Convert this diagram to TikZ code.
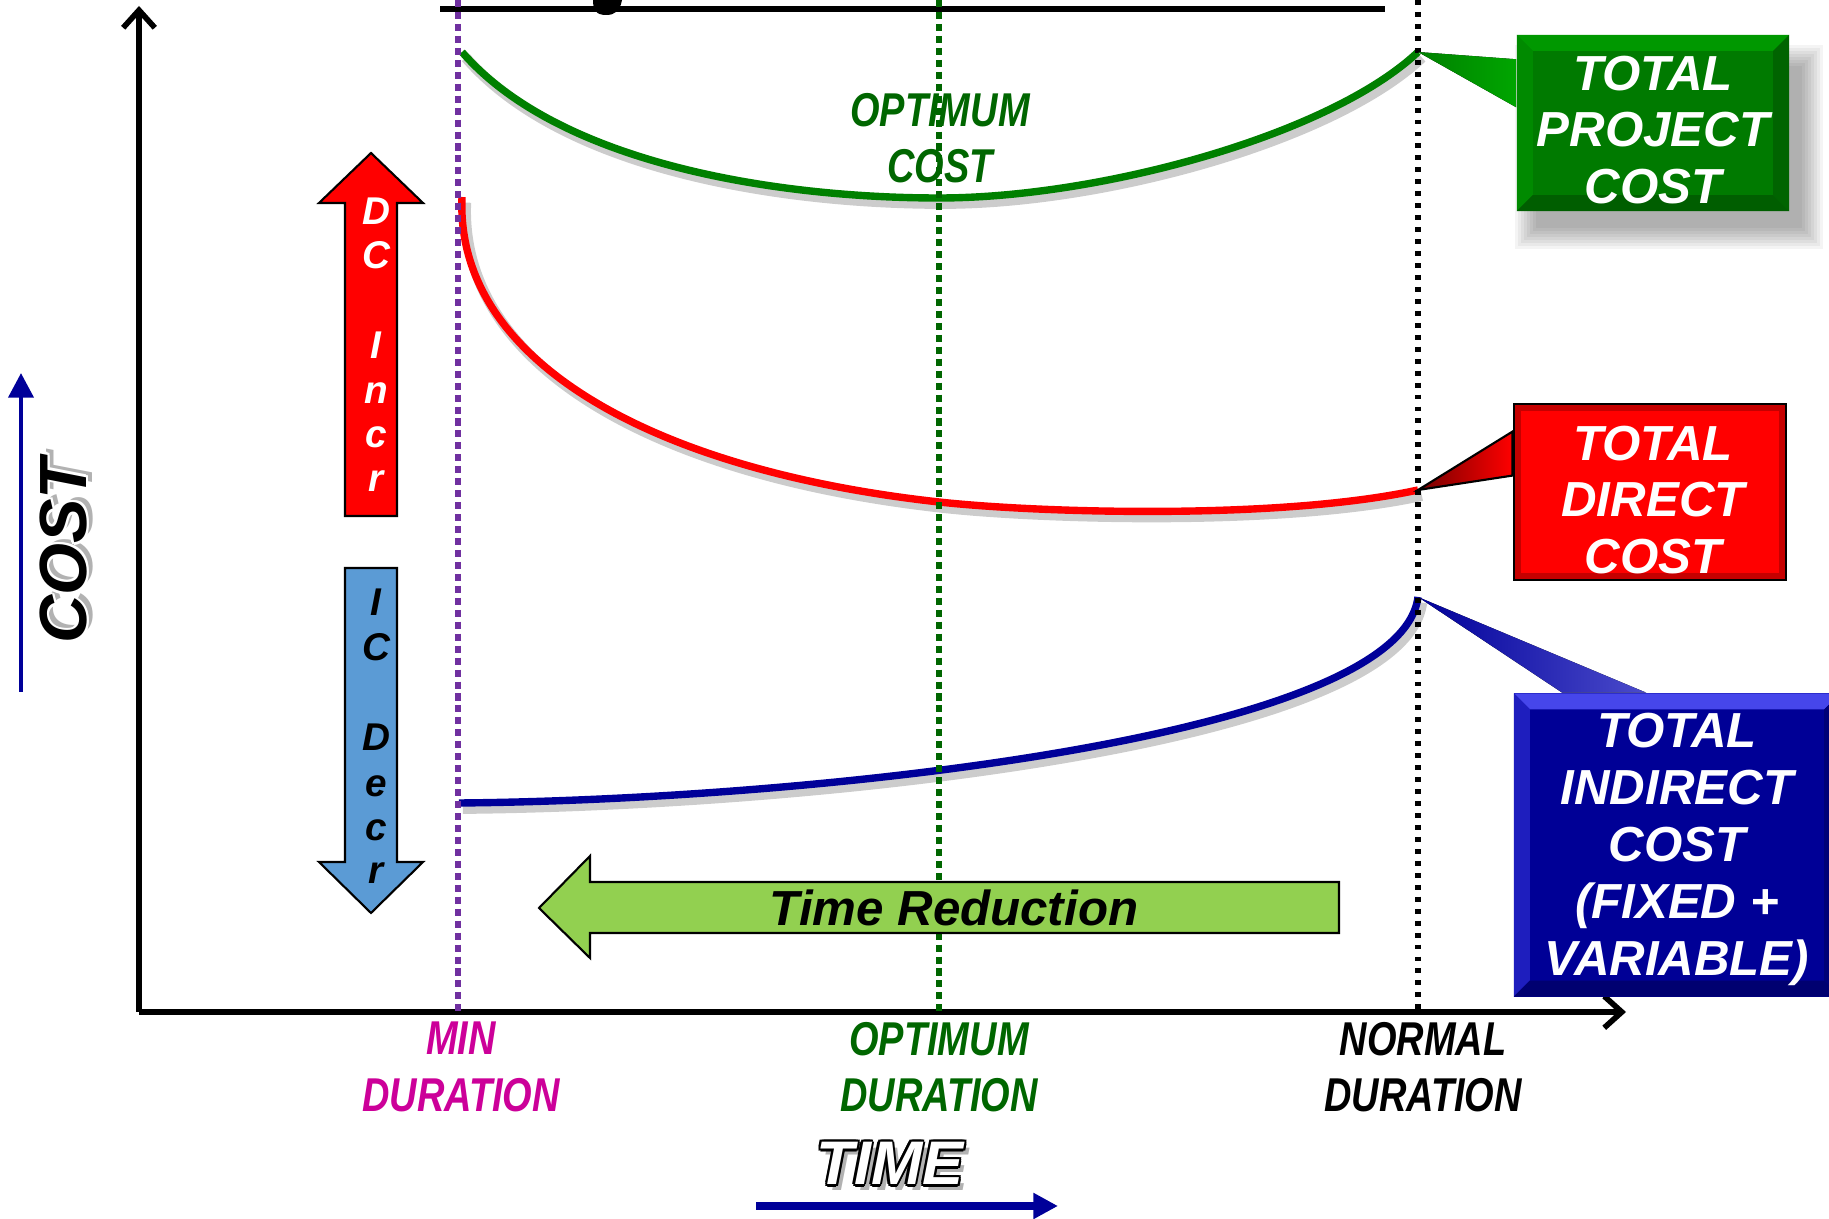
\documentclass[tikz,border=0pt]{standalone}
\usepackage{fontspec}
\setmainfont{Liberation Sans}
\newfontfamily\narrowsf[FakeStretch=0.8]{Liberation Sans}
\usetikzlibrary{arrows.meta}

\definecolor{pcgreen}{RGB}{0,128,0}
\definecolor{optgreen}{RGB}{0,102,0}
\definecolor{minpurple}{RGB}{112,48,160}
\definecolor{minmagenta}{RGB}{204,0,153}
\definecolor{icblue}{RGB}{0,0,153}
\definecolor{icarrow}{RGB}{91,155,213}
\definecolor{reducegreen}{RGB}{146,208,80}
\definecolor{gbox}{RGB}{0,122,0}
\definecolor{gtop}{RGB}{0,152,0}
\definecolor{gleft}{RGB}{0,138,0}
\definecolor{gright}{RGB}{0,100,0}
\definecolor{gbottom}{RGB}{0,94,0}
\definecolor{bbox}{RGB}{0,0,150}
\definecolor{btop}{RGB}{70,70,235}
\definecolor{bleft}{RGB}{30,30,190}
\definecolor{bright}{RGB}{0,0,120}
\definecolor{bbottom}{RGB}{0,0,112}

% text drawn over copies of itself: shadow, outline, then the fill colour
\newcommand{\outlinetext}[3]{%
  \leavevmode
  \rlap{\color{black!30}\hspace{1.4pt}\raisebox{-1.6pt}{#3}}%
  \rlap{\color{#1}\hspace{-.7pt}#3}%
  \rlap{\color{#1}\hspace{.7pt}#3}%
  \rlap{\color{#1}\raisebox{.7pt}{#3}}%
  \rlap{\color{#1}\raisebox{-.7pt}{#3}}%
  \rlap{\color{#1}\hspace{-.5pt}\raisebox{.5pt}{#3}}%
  \rlap{\color{#1}\hspace{.5pt}\raisebox{.5pt}{#3}}%
  \rlap{\color{#1}\hspace{-.5pt}\raisebox{-.5pt}{#3}}%
  \rlap{\color{#1}\hspace{.5pt}\raisebox{-.5pt}{#3}}%
  {\color{#2}#3}}

\tikzset{
    x=0.01cm, y=-0.01cm, % one unit is one pixel of the sheet, y runs down
    axisline/.style={line width=1.6pt, -{Straight Barb[length=5pt,width=9pt]}},
    durline/.style={line width=1.5pt, dash pattern=on 2pt off 1.4pt}, % vertical duration marks
    costcurve/.style={line width=2.1pt, preaction={draw=black, opacity=.2, line width=3pt,
        transform canvas={shift={(1.1pt,-1.6pt)}}}}, % curve with a soft shadow
    calloutbox/.style={minimum width=2.72cm, minimum height=1.76cm, inner sep=0pt},
    boxtext/.style={text=white, align=center, font=\fontsize{14pt}{16pt}\selectfont\bfseries\itshape},
    durlabel/.style={align=center, font=\narrowsf\fontsize{13.5pt}{16.1pt}\selectfont\bfseries\itshape},
    arrowletter/.style={anchor=base, font=\fontsize{11pt}{13pt}\selectfont\bfseries\itshape},
    bigarrow/.style={draw=black, line width=0.6pt, line join=miter},
    bevelled/.style n args={4}{path picture={
        \fill[#1] (path picture bounding box.north west) -- (path picture bounding box.north east)
            -- ([shift={(-.16cm,-.16cm)}]path picture bounding box.north east)
            -- ([shift={(.16cm,-.16cm)}]path picture bounding box.north west) -- cycle;
        \fill[#2] (path picture bounding box.north west) -- ([shift={(.16cm,-.16cm)}]path picture bounding box.north west)
            -- ([shift={(.16cm,.16cm)}]path picture bounding box.south west) -- (path picture bounding box.south west) -- cycle;
        \fill[#3] (path picture bounding box.north east) -- ([shift={(-.16cm,-.16cm)}]path picture bounding box.north east)
            -- ([shift={(-.16cm,.16cm)}]path picture bounding box.south east) -- (path picture bounding box.south east) -- cycle;
        \fill[#4] (path picture bounding box.south west) -- ([shift={(.16cm,.16cm)}]path picture bounding box.south west)
            -- ([shift={(-.16cm,.16cm)}]path picture bounding box.south east) -- (path picture bounding box.south east) -- cycle;
    }},
}

\begin{document}
\begin{tikzpicture}
\useasboundingbox (0,0) rectangle (1829,1219);
\clip (0,0) rectangle (1829,1219);
\fill[white] (0,0) rectangle (1829,1219);

% rule of the cut-off title
\draw[line width=1.6pt] (440,9) -- (1385,9);
\fill (593,0) -- (622,0) .. controls (620,11) and (615,15) .. (606,15) .. controls (596,15) and (593,10) .. (593,0) -- cycle;

% axes
\coordinate (origin) at (139,1012);
\draw[axisline] (origin) -- (139,6);
\draw[axisline] (origin) -- (1626,1012);

% cost curves
\coordinate (pcstart) at (462,52);
\coordinate (pcmin) at (939,198);
\coordinate (pcend) at (1418,52);
\draw[costcurve, pcgreen] (pcstart) .. controls (560,165) and (780,198) .. (pcmin)
    .. controls (1100,198) and (1330,135) .. (pcend);
\coordinate (dcstart) at (462,197);
\coordinate (dcmid) at (939,502);
\coordinate (dcend) at (1418,490);
\draw[costcurve, red] (dcstart) .. controls (455,360) and (650,470) .. (dcmid)
    .. controls (1040,513) and (1280,520) .. (dcend);
\coordinate (icstart) at (459,803);
\coordinate (icend) at (1418,597);
\draw[costcurve, icblue] (icstart) .. controls (800,800) and (1400,740) .. (icend);

% duration labels
\node[durlabel, text=optgreen] (optcost) at (940,138) {OPTIMUM\\COST};
\node[durlabel, text=minmagenta] (minlbl) at (461,1067) {MIN\\DURATION};
\node[durlabel, text=optgreen] (optlbl) at (939,1067) {OPTIMUM\\DURATION};
\node[durlabel] (normlbl) at (1423,1067) {NORMAL\\DURATION};

% duration marks
\draw[durline, minpurple] (458,0) -- (458,1012);
\draw[durline, optgreen] (939,0) -- (939,1012);
\draw[durline, dash pattern=on 1.4pt off 2pt, line width=1.6pt] (1418,0) -- (1418,1012);

% DC incr and IC decr
\draw[bigarrow, fill=red] (345,516) -- (345,203) -- (319,203) -- (371,153) -- (423,203) -- (397,203) -- (397,516) -- cycle;
\foreach \l/\y in {D/225, C/269, I/359, n/404, c/448, r/492}
    \node[arrowletter, text=white] (dc\y) at (376,\y) {\l};
\draw[bigarrow, fill=icarrow] (345,568) -- (397,568) -- (397,862) -- (423,862) -- (371,913) -- (319,862) -- (345,862) -- cycle;
\foreach \l/\y in {I/616, C/661, D/751, e/797, c/841, r/884}
    \node[arrowletter] (ic\y) at (376,\y) {\l};

% time reduction
\draw[bigarrow, fill=reducegreen] (1339,882) -- (590,882) -- (590,856) -- (539,908) -- (590,958) -- (590,933) -- (1339,933) -- cycle;
\node[font=\fontsize{14pt}{16pt}\selectfont\bfseries\itshape] (reduce) at (954,908) {Time Reduction};

% axis titles
\coordinate (costfoot) at (21,692);
\coordinate (costhead) at (21,373);
\draw[line width=1.4pt, icblue, -{Triangle[length=7pt,width=7pt]}] (costfoot) -- (costhead);
\node[rotate=90, font=\fontsize{19pt}{22pt}\selectfont\bfseries\itshape] (costlbl) at (65,551) {\outlinetext{white}{black}{COST}};
\node[font=\fontsize{17.5pt}{20pt}\selectfont\bfseries\itshape] (timelbl) at (890,1165) {\outlinetext{black}{white}{TIME}};
\coordinate (timefoot) at (756,1206);
\coordinate (timehead) at (1058,1206);
\draw[line width=2.3pt, icblue, -{Triangle[length=7pt,width=7pt]}] (timefoot) -- (timehead);

% total project cost callout
\foreach \b in {0,3,...,21}
    \fill[black, opacity=.045] (1536-\b,66-\b) rectangle (1802+\b,228+\b);
\node[calloutbox, fill=gbox, bevelled={gtop}{gleft}{gright}{gbottom}] (tpcbox) at (1653,123) {};
\fill[left color=pcgreen, right color=green!65!black] (pcend) -- ([yshift=-.25cm]tpcbox.north west) -- ([yshift=-.73cm]tpcbox.north west) -- cycle;
\node[boxtext] (tpctext) at ([yshift=-.07cm]tpcbox.center) {TOTAL\\PROJECT\\COST};

% total direct cost callout
\node[calloutbox, fill=red, draw=black, line width=0.8pt, path picture={
    \draw[red!55!black, line width=.14cm, opacity=.5] (path picture bounding box.south west) rectangle (path picture bounding box.north east);}] (tdcbox) at (1650,492) {};
\filldraw[draw=black, line width=.6pt, left color=red!45!black, right color=red] (dcend) -- ([yshift=-.29cm]tdcbox.north west) -- ([yshift=-.73cm]tdcbox.north west) -- cycle;
\node[boxtext] (tdctext) at ([xshift=.03cm, yshift=-.08cm]tdcbox.center) {TOTAL\\DIRECT\\COST};

% total indirect cost callout
\node[calloutbox, minimum width=3.26cm, minimum height=3.03cm, fill=bbox, bevelled={btop}{bleft}{bright}{bbottom}] (ticbox) at (1677,845) {};
\fill[left color=icblue, right color=bleft!80!white] (icend) -- ([xshift=.49cm]ticbox.north west) -- ([xshift=1.33cm]ticbox.north west) -- cycle;
\node[boxtext, font=\fontsize{14pt}{16.2pt}\selectfont\bfseries\itshape] (tictext) at ([yshift=-.04cm]ticbox.center) {TOTAL\\INDIRECT\\COST\\(FIXED +\\VARIABLE)};
\end{tikzpicture}
\end{document}
